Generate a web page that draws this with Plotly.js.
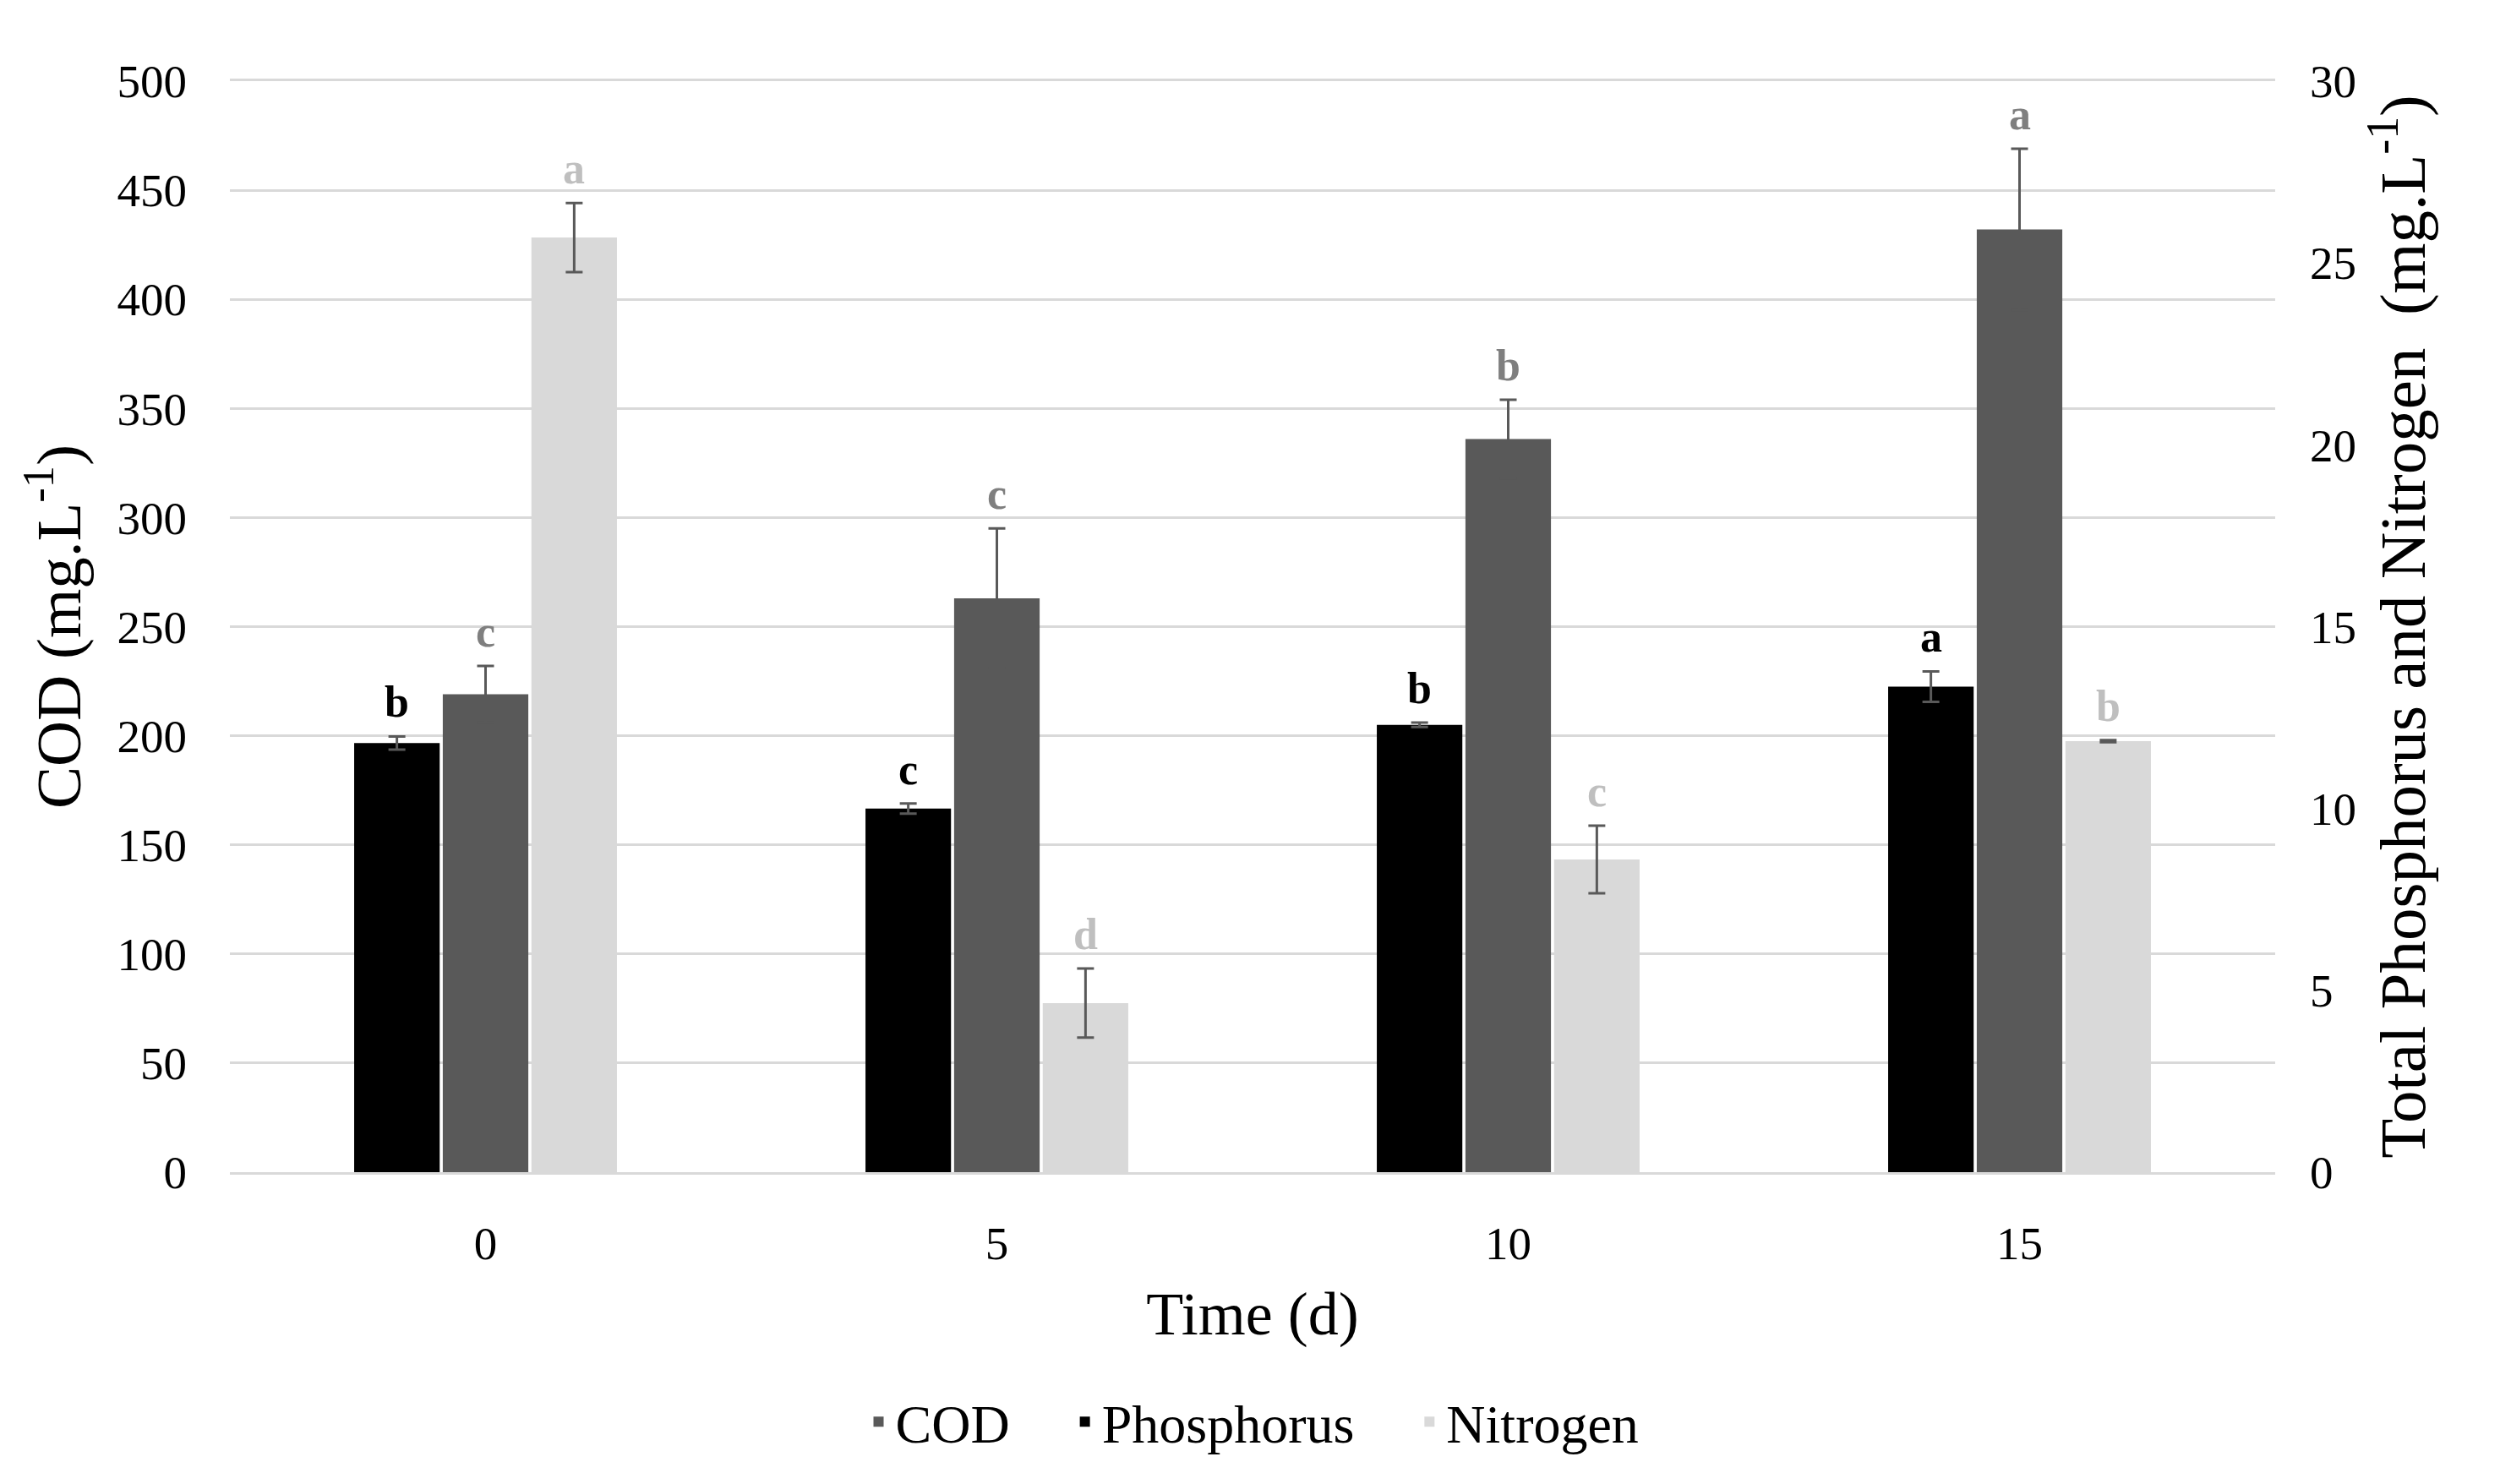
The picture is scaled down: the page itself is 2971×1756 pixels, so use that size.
<!DOCTYPE html>
<html>
<head>
<meta charset="utf-8">
<script src="https://cdn.plot.ly/plotly-3.0.1.min.js"></script>
<style>html,body{margin:0;padding:0;background:#fff;}#chart{width:2971px;height:1756px;}</style>
</head>
<body>
<div id="chart"></div>
<script>
// ---- data ----
const days = ['0', '5', '10', '15'];
const seriesNames = ['Phosphorus', 'COD', 'Nitrogen'];

const codMean = [219, 263, 336, 432];
const codErr  = [13, 32, 18, 37];
const codLetters = ['c', 'c', 'b', 'a'];

const phosMean = [11.8, 10.0, 12.3, 13.35];
const phosErr  = [0.18, 0.14, 0.06, 0.42];
const phosLetters = ['b', 'c', 'b', 'a'];

const nitMean = [25.7, 4.65, 8.6, 11.85];
const nitErr  = [0.95, 0.95, 0.93, 0.03];
const nitLetters = ['a', 'd', 'c', 'b'];

// ---- styling ----
const FONT = 'Liberation Serif, Times New Roman, serif';
const W = 2971, H = 1756;
const M = {l: 272, r: 279, t: 96, b: 369};
const BARGAP = 0.48;
const GROUPGAP = 0.035;
const plotW = W - M.l - M.r;
const catW = plotW / days.length;
const barSlot = (1 - BARGAP) * catW / 3;
const PAD = '\u00a0\u00a0\u00a0\u00a0';   // extra room between legend entries

const errStyle = {type: 'data', visible: true, color: '#595959', thickness: 3, width: 10};

const traces = [
  {type: 'bar', name: seriesNames[0] + PAD, x: days, y: phosMean, yaxis: 'y2',
   error_y: Object.assign({array: phosErr}, errStyle),
   marker: {color: '#000000'},
   offsetgroup: '1', alignmentgroup: 'g', legendrank: 2},
  {type: 'bar', name: seriesNames[1] + PAD, x: days, y: codMean, yaxis: 'y',
   error_y: Object.assign({array: codErr}, errStyle),
   marker: {color: '#595959'},
   offsetgroup: '2', alignmentgroup: 'g', legendrank: 1},
  {type: 'bar', name: seriesNames[2], x: days, y: nitMean, yaxis: 'y2',
   error_y: Object.assign({array: nitErr}, errStyle),
   marker: {color: '#d9d9d9'},
   offsetgroup: '3', alignmentgroup: 'g', legendrank: 3}
];

const annotations = [];
function addLetters(means, errs, letters, yref, shift, color) {
  days.forEach((d, i) => {
    annotations.push({
      x: i, xref: 'x', y: means[i] + errs[i], yref: yref,
      text: '<b>' + letters[i] + '</b>', showarrow: false,
      xanchor: 'center', yanchor: 'bottom', xshift: shift, yshift: 10,
      font: {family: FONT, size: 52, color: color}
    });
  });
}
addLetters(phosMean, phosErr, phosLetters, 'y2', -barSlot, '#000000');
addLetters(codMean, codErr, codLetters, 'y', 0, '#7f7f7f');
addLetters(nitMean, nitErr, nitLetters, 'y2', barSlot, '#bfbfbf');

const layout = {
  width: W, height: H,
  margin: M,
  paper_bgcolor: '#ffffff', plot_bgcolor: '#ffffff',
  font: {family: FONT, color: '#000000', size: 55},
  barmode: 'group', bargap: BARGAP, bargroupgap: GROUPGAP,
  showlegend: true,
  legend: {orientation: 'h', x: 0.5, xanchor: 'center', y: -0.229, yanchor: 'middle',
           font: {family: FONT, size: 64, color: '#000000'}, traceorder: 'normal'},
  xaxis: {type: 'category', range: [-0.5, days.length - 0.5], autorange: false,
          showgrid: false, zeroline: false,
          showline: true, mirror: true, linecolor: '#d9d9d9', linewidth: 3,
          ticks: '', ticklabelstandoff: 34,
          tickfont: {family: FONT, size: 55, color: '#000000'},
          title: {text: 'Time (d)', font: {family: FONT, size: 72, color: '#000000'}, standoff: 28}},
  yaxis: {range: [0, 500], autorange: false, dtick: 50, showgrid: true, gridcolor: '#d9d9d9', gridwidth: 3,
          zeroline: false, showline: false, ticks: '', ticklabelstandoff: 50,
          tickfont: {family: FONT, size: 55, color: '#000000'},
          title: {text: 'COD (mg.L<sup>-1</sup>)', font: {family: FONT, size: 75, color: '#000000'}, standoff: 18}},
  yaxis2: {range: [0, 30], autorange: false, dtick: 5, overlaying: 'y', side: 'right', showgrid: false,
           zeroline: false, showline: false, ticks: '', ticklabelstandoff: 40,
           tickfont: {family: FONT, size: 55, color: '#000000'},
           title: {text: 'Total Phosphorus and Nitrogen  (mg.L<sup>-1</sup>)', font: {family: FONT, size: 77, color: '#000000'}, standoff: 28}},
  annotations: annotations
};

Plotly.newPlot('chart', traces, layout, {displayModeBar: false, staticPlot: true});
</script>
</body>
</html>
